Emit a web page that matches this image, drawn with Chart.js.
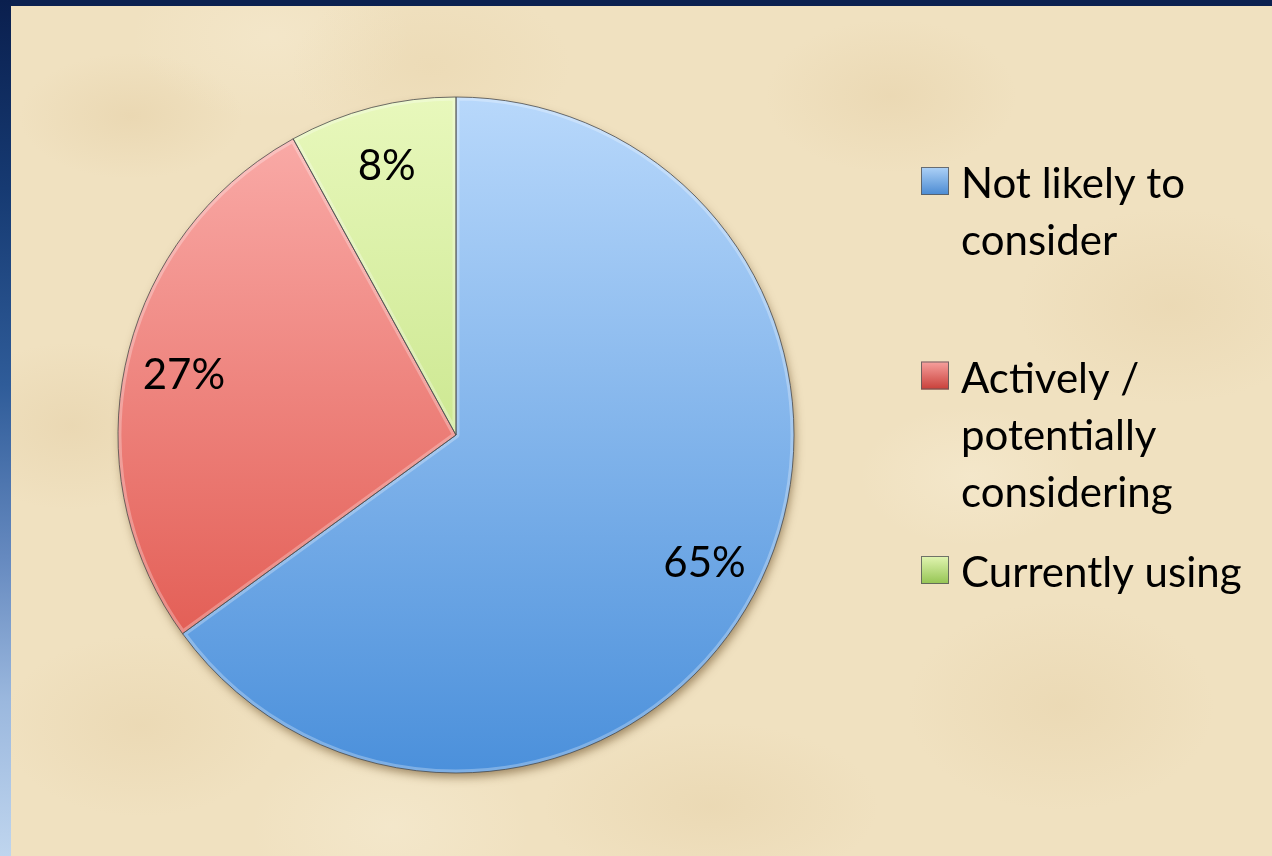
<!DOCTYPE html>
<html>
<head>
<meta charset="utf-8">
<script src="https://cdn.jsdelivr.net/npm/chart.js@4.4.1/dist/chart.umd.min.js"></script>
<style>
  html, body { margin: 0; padding: 0; width: 1272px; height: 856px; overflow: hidden; }
  body { position: relative; background: #0b2150; }
  #side {
    position: absolute; left: 0; top: 0; width: 11px; height: 856px;
    background: linear-gradient(#0a1f4e 0%, #163a72 22%, #2f5c99 45%, #6589bf 65%, #9bb8de 82%, #bfd5ee 100%);
  }
  #paper {
    position: absolute; left: 11px; top: 6px; right: 0; bottom: 0;
    background-color: #f0e1c0;
    background-image:
      radial-gradient(ellipse 160px 90px at 120px 110px, rgba(214,184,132,0.22), rgba(214,184,132,0) 70%),
      radial-gradient(ellipse 200px 120px at 420px 60px, rgba(222,196,146,0.20), rgba(222,196,146,0) 70%),
      radial-gradient(ellipse 180px 110px at 880px 90px, rgba(212,180,126,0.18), rgba(212,180,126,0) 70%),
      radial-gradient(ellipse 220px 140px at 1160px 300px, rgba(214,184,132,0.18), rgba(214,184,132,0) 70%),
      radial-gradient(ellipse 170px 120px at 60px 420px, rgba(208,176,122,0.18), rgba(208,176,122,0) 70%),
      radial-gradient(ellipse 200px 130px at 130px 720px, rgba(214,184,132,0.18), rgba(214,184,132,0) 70%),
      radial-gradient(ellipse 240px 120px at 700px 800px, rgba(212,182,128,0.18), rgba(212,182,128,0) 70%),
      radial-gradient(ellipse 220px 150px at 1050px 700px, rgba(214,184,132,0.18), rgba(214,184,132,0) 70%),
      radial-gradient(ellipse 160px 100px at 960px 470px, rgba(248,238,214,0.45), rgba(248,238,214,0) 70%),
      radial-gradient(ellipse 200px 120px at 260px 30px, rgba(248,238,214,0.4), rgba(248,238,214,0) 70%),
      radial-gradient(ellipse 200px 140px at 380px 820px, rgba(248,240,218,0.4), rgba(248,240,218,0) 70%);
  }
  #chart { position: absolute; left: 0; top: 0; }
</style>
</head>
<body>
<div id="side"></div>
<div id="paper"></div>
<canvas id="chart" width="1272" height="856"></canvas>
<script>
// Survey answers and their shares (percent)
const categories = ['Not likely to consider', 'Actively / potentially considering', 'Currently using'];
const shares = [65, 27, 8];
const valueLabels = shares.map(v => v + '%');

// Slice shading: light at the top of the pie, deeper toward the bottom
const sliceTop = ['#b8d8fb', '#fbb0ad', '#e8f8bc'];
const sliceBottom = ['#4b90db', '#dd4a40', '#b2d868'];
const keyTop = ['#aed2f7', '#f7a19e', '#e2f5b2'];
const keyBottom = ['#4a8ad2', '#c83f39', '#94c452'];

const FONT = 'Lato, "Open Sans", "DejaVu Sans", sans-serif';
const TEXT_SIZE = 42;

function sliceFill(ctx) {
  const i = ctx.dataIndex;
  const area = ctx.chart.chartArea;
  if (!area) return sliceTop[i];
  const g = ctx.chart.ctx.createLinearGradient(0, area.top, 0, area.bottom);
  g.addColorStop(0, sliceTop[i]);
  g.addColorStop(1, sliceBottom[i]);
  return g;
}

function arcPath(ctx, p) {
  ctx.beginPath();
  ctx.moveTo(p.x, p.y);
  ctx.arc(p.x, p.y, p.outerRadius, p.startAngle, p.endAngle);
  ctx.closePath();
}

// Soft drop shadow under the whole pie
const pieShadow = {
  id: 'pieShadow',
  beforeDatasetsDraw(chart) {
    const arc = chart.getDatasetMeta(0).data[0];
    if (!arc) return;
    const p = arc.getProps(['x', 'y', 'outerRadius'], true);
    const ctx = chart.ctx;
    ctx.save();
    ctx.shadowColor = 'rgba(90,60,20,0.55)';
    ctx.shadowBlur = 10;
    ctx.shadowOffsetX = 2;
    ctx.shadowOffsetY = 5;
    ctx.fillStyle = '#8fa9c8';
    ctx.beginPath();
    ctx.arc(p.x, p.y, p.outerRadius - 1, 0, Math.PI * 2);
    ctx.fill();
    ctx.restore();
  }
};

// Bevelled slice edges, outlines and percentage labels
const sliceDecor = {
  id: 'sliceDecor',
  afterDatasetsDraw(chart) {
    const ctx = chart.ctx;
    const arcs = chart.getDatasetMeta(0).data;
    arcs.forEach((arc) => {
      const p = arc.getProps(['x', 'y', 'startAngle', 'endAngle', 'outerRadius'], true);
      ctx.save();
      arcPath(ctx, p);
      ctx.clip();
      arcPath(ctx, p);
      ctx.lineJoin = 'round';
      ctx.lineWidth = 7;
      ctx.strokeStyle = 'rgba(255,255,255,0.28)';
      ctx.stroke();
      ctx.restore();

      ctx.save();
      arcPath(ctx, p);
      ctx.lineWidth = 1;
      ctx.strokeStyle = 'rgba(75,75,75,0.8)';
      ctx.stroke();
      ctx.restore();
    });

    arcs.forEach((arc, i) => {
      const p = arc.getProps(['x', 'y', 'startAngle', 'endAngle', 'outerRadius'], true);
      const mid = (p.startAngle + p.endAngle) / 2;
      const r = p.outerRadius * 0.825;
      const lx = p.x + Math.cos(mid) * r;
      const ly = p.y + Math.sin(mid) * r;
      ctx.save();
      ctx.font = TEXT_SIZE + 'px ' + FONT;
      ctx.fillStyle = '#000';
      ctx.textAlign = 'center';
      ctx.textBaseline = 'alphabetic';
      ctx.fillText(valueLabels[i], lx, ly + TEXT_SIZE * 0.36);
      ctx.restore();
    });
  }
};

function wrapWords(ctx, text, maxWidth) {
  const words = text.split(' ');
  const lines = [];
  let line = '';
  words.forEach(w => {
    const test = line ? line + ' ' + w : w;
    if (line && ctx.measureText(test).width > maxWidth) {
      lines.push(line);
      line = w;
    } else {
      line = test;
    }
  });
  if (line) lines.push(line);
  return lines;
}

// Legend on the right: square keys and wrapped labels
const sideLegend = {
  id: 'sideLegend',
  afterDraw(chart) {
    const ctx = chart.ctx;
    const keyX = 921, textX = 961, firstBase = 198, slot = 194.5, lineH = 57, key = 28;
    ctx.save();
    ctx.font = TEXT_SIZE + 'px ' + FONT;
    ctx.textAlign = 'left';
    ctx.textBaseline = 'alphabetic';
    categories.forEach((label, i) => {
      const base = firstBase + i * slot;
      const ky = base - 31;
      const g = ctx.createLinearGradient(0, ky, 0, ky + key);
      g.addColorStop(0, keyTop[i]);
      g.addColorStop(1, keyBottom[i]);
      ctx.fillStyle = g;
      ctx.fillRect(keyX, ky, key, key);
      ctx.lineWidth = 1;
      ctx.strokeStyle = 'rgba(90,90,90,0.85)';
      ctx.strokeRect(keyX + 0.5, ky + 0.5, key - 1, key - 1);
      ctx.fillStyle = '#000';
      wrapWords(ctx, label, 305).forEach((ln, j) => {
        ctx.fillText(ln, textX, base + j * lineH);
      });
    });
    ctx.restore();
  }
};

function draw() {
  new Chart(document.getElementById('chart'), {
    type: 'pie',
    data: {
      labels: categories,
      datasets: [{
        data: shares,
        backgroundColor: sliceFill,
        borderWidth: 0
      }]
    },
    options: {
      responsive: false,
      devicePixelRatio: 1,
      animation: false,
      layout: { padding: { left: 118, top: 97, right: 478, bottom: 83 } },
      plugins: {
        legend: { display: false },
        tooltip: { enabled: false }
      }
    },
    plugins: [pieShadow, sliceDecor, sideLegend]
  });
}

if (document.fonts && document.fonts.load) {
  document.fonts.load(TEXT_SIZE + 'px Lato').then(draw, draw);
} else {
  draw();
}
</script>
</body>
</html>
